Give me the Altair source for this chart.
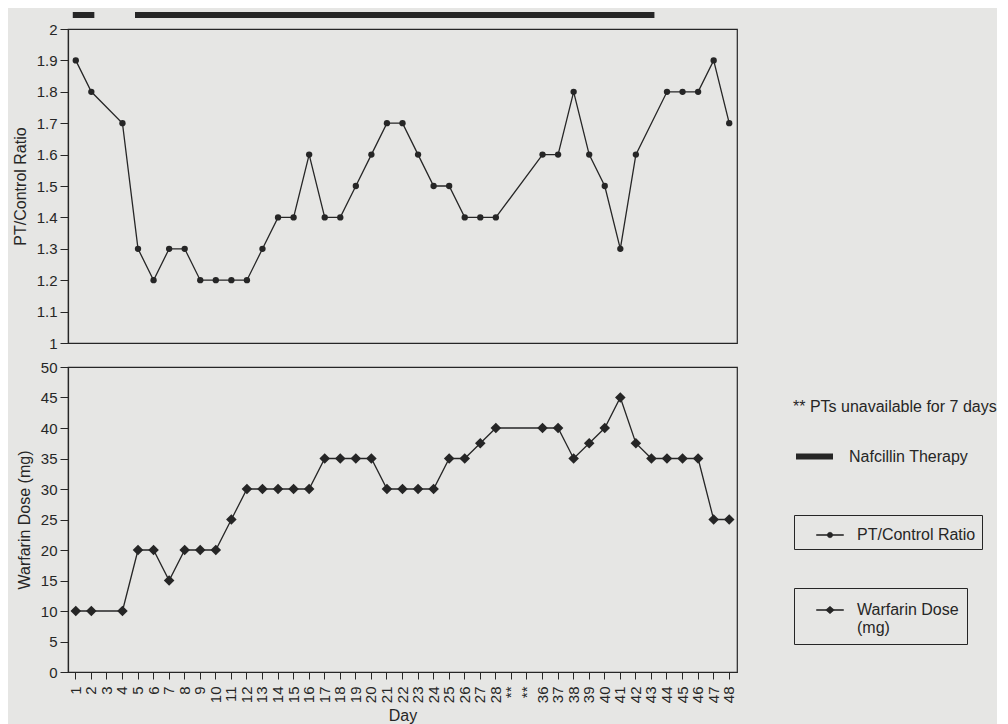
import altair as alt
import pandas as pd

INK = "#262626"
BG = "#e6e6e4"
FONT = "Liberation Sans"

day_labels = ["1", "2", "3", "4", "5", "6", "7", "8", "9", "10", "11", "12", "13", "14",
              "15", "16", "17", "18", "19", "20", "21", "22", "23", "24", "25", "26", "27",
              "28", "**", "**", "36", "37", "38", "39", "40", "41", "42", "43", "44", "45",
              "46", "47", "48"]
day_keys = [lab if lab != "**" else "**" + str(i) for i, lab in enumerate(day_labels)]

pt_days = ["1", "2", "4", "5", "6", "7", "8", "9", "10", "11", "12", "13", "14", "15", "16",
           "17", "18", "19", "20", "21", "22", "23", "24", "25", "26", "27", "28",
           "36", "37", "38", "39", "40", "41", "42", "44", "45", "46", "47", "48"]
pt_ratio = [1.9, 1.8, 1.7, 1.3, 1.2, 1.3, 1.3, 1.2, 1.2, 1.2, 1.2, 1.3, 1.4, 1.4, 1.6,
            1.4, 1.4, 1.5, 1.6, 1.7, 1.7, 1.6, 1.5, 1.5, 1.4, 1.4, 1.4,
            1.6, 1.6, 1.8, 1.6, 1.5, 1.3, 1.6, 1.8, 1.8, 1.8, 1.9, 1.7]

warf_days = ["1", "2", "4", "5", "6", "7", "8", "9", "10", "11", "12", "13", "14", "15", "16",
             "17", "18", "19", "20", "21", "22", "23", "24", "25", "26", "27", "28",
             "36", "37", "38", "39", "40", "41", "42", "43", "44", "45", "46", "47", "48"]
warf_dose = [10, 10, 10, 20, 20, 15, 20, 20, 20, 25, 30, 30, 30, 30, 30,
             35, 35, 35, 35, 30, 30, 30, 30, 35, 35, 37.5, 40,
             40, 40, 35, 37.5, 40, 45, 37.5, 35, 35, 35, 35, 25, 25]

naf_start = ["1", "5"]
naf_end = ["2", "43"]

pt_ticks = [1, 1.1, 1.2, 1.3, 1.4, 1.5, 1.6, 1.7, 1.8, 1.9, 2]
dose_ticks = [0, 5, 10, 15, 20, 25, 30, 35, 40, 45, 50]

pt_df = pd.DataFrame({"day": pt_days, "ratio": pt_ratio,
                      "idx": [day_keys.index(d) for d in pt_days],
                      "series": "PT/Control Ratio"})
w_df = pd.DataFrame({"day": warf_days, "dose": warf_dose,
                     "idx": [day_keys.index(d) for d in warf_days],
                     "series": "Warfarin Dose (mg)"})
naf_df = pd.DataFrame({"start": naf_start, "end": naf_end, "therapy": "Nafcillin Therapy"})

PT_SYMBOL = ("M-1,-0.03H1V0.03H-1Z"
             "M-0.2,0A0.2,0.2 0 1,1 0.2,0A0.2,0.2 0 1,1 -0.2,0Z")
W_SYMBOL = "M-1,-0.03H1V0.03H-1ZM0,-0.27L0.32,0L0,0.27L-0.32,0Z"

x_scale = alt.Scale(type="band", domain=day_keys, paddingInner=0, paddingOuter=0)

x_axis = alt.Axis(
    title="Day", labelAngle=270, tickSize=7, labelPadding=7,
    labelExpr="indexof(datum.value, '**') == 0 ? '**' : datum.value",
    labelOverlap=False, titlePadding=5,
)

top_x = alt.X("day:N", scale=x_scale, axis=None)
bot_x = alt.X("day:N", scale=x_scale, axis=x_axis)

pt_axis = alt.Axis(values=pt_ticks, format="~g", title="PT/Control Ratio", tickSize=8,
                   labelPadding=3, labelFlush=False, labelOverlap=False, titlePadding=8)
w_axis = alt.Axis(values=dose_ticks, title="Warfarin Dose (mg)", tickSize=8,
                  labelPadding=3, labelFlush=False, labelOverlap=False, titlePadding=8)
pt_y = alt.Y("ratio:Q", scale=alt.Scale(domain=[1, 2], nice=False, zero=False), axis=pt_axis)
w_y = alt.Y("dose:Q", scale=alt.Scale(domain=[0, 50], nice=False), axis=w_axis)

rule = alt.Chart(naf_df).mark_rule(strokeWidth=6, color=INK, strokeCap="square").encode(
    x=alt.X("start:N", scale=x_scale, axis=None),
    x2=alt.X2("end"),
    y=alt.value(-14),
    strokeDash=alt.StrokeDash("therapy:N", scale=alt.Scale(range=[[1, 0]]), legend=alt.Legend(
        orient="none", legendX=725, legendY=370, title="** PTs unavailable for 7 days",
        titleLimit=320, titlePadding=20, padding=0, symbolType="stroke", symbolSize=1369,
        symbolStrokeWidth=6, symbolStrokeColor=INK, labelOffset=13)),
)

pt_line = alt.Chart(pt_df).mark_line(color=INK, strokeWidth=1.3).encode(
    x=top_x, y=pt_y, order=alt.Order("idx:Q"),
)
pt_pts = alt.Chart(pt_df).mark_point(filled=True, shape="circle", size=40, opacity=1,
                                     color=INK).encode(
    x=top_x, y=pt_y,
    fill=alt.Fill("series:N", scale=alt.Scale(range=[INK]), legend=alt.Legend(
        orient="none", legendX=726, legendY=486, title=None, padding=6,
        strokeColor=INK, symbolType=PT_SYMBOL, symbolSize=729, symbolOffset=16,
        symbolStrokeWidth=0.6, symbolStrokeColor=INK, symbolFillColor=INK,
        labelOffset=13)),
)
top = alt.layer(rule, pt_line, pt_pts).properties(width=669, height=314)

w_line = alt.Chart(w_df).mark_line(color=INK, strokeWidth=1.3).encode(
    x=bot_x, y=w_y, order=alt.Order("idx:Q"),
)
w_pts = alt.Chart(w_df).mark_point(filled=True, shape="diamond", size=60, opacity=1,
                                   color=INK).encode(
    x=bot_x, y=w_y,
    stroke=alt.Stroke("series:N", scale=alt.Scale(range=[INK]), legend=alt.Legend(
        orient="none", legendX=726, legendY=559, title=None, padding=8,
        strokeColor=INK, symbolType=W_SYMBOL, symbolSize=729, symbolOffset=14,
        symbolStrokeWidth=0.6, symbolStrokeColor=INK, symbolFillColor=INK,
        labelOffset=13,
        labelExpr="[split(datum.label, ' (')[0], '(' + split(datum.label, ' (')[1]]")),
)
bottom = alt.layer(w_line, w_pts).properties(width=669, height=305)

chart = alt.vconcat(top, bottom, spacing=7).properties(
    background=BG, padding={"left": 3, "top": 2, "right": 0, "bottom": 0}
).configure_view(
    stroke=INK, strokeWidth=1.2
).configure_axis(
    labelFont=FONT, titleFont=FONT, labelColor=INK, titleColor=INK, domainColor=INK,
    tickColor=INK, titleFontWeight="normal", labelFontSize=15, titleFontSize=16,
    grid=False, domainWidth=1.2, tickWidth=1,
).configure_legend(
    labelFont=FONT, titleFont=FONT, labelColor=INK, titleColor=INK,
    labelFontSize=16, titleFontSize=16, titleFontWeight="normal",
)

chart.save("out.html", embed_options={"renderer": "svg", "actions": False})
